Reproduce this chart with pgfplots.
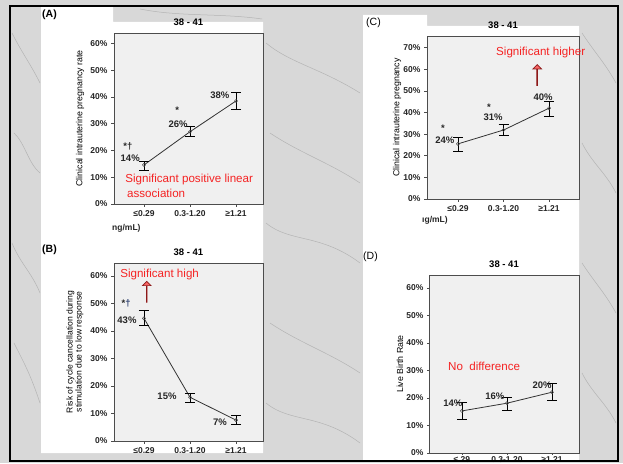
\documentclass[border=0pt]{standalone}
\usepackage{fontspec}
\setmainfont{Liberation Sans}
\usepackage{pgfplots}
\pgfplotsset{compat=1.18}
\usetikzlibrary{shapes.arrows}
\definecolor{marble}{RGB}{216,216,216}
\definecolor{vein}{RGB}{165,165,165}
\definecolor{plotbg}{RGB}{240,240,240}
\definecolor{sigred}{RGB}{245,35,35}
\definecolor{arrowred}{RGB}{140,25,25}
\definecolor{daggerblue}{RGB}{40,60,110}

\pgfplotsset{
  panel/.style={
    scale only axis, anchor=south west, clip=false,
    axis background/.style={fill=plotbg},
    axis line style={black!70, line width=0.6pt},
    xtick={1,2,3}, ymin=0,
    yticklabel={\pgfmathprintnumber{\tick}\%},
    /pgf/number format/assume math mode=true,
    tick align=outside, xtick pos=bottom, ytick pos=left,
    major tick length=3pt,
    tick style={black!70, line width=0.6pt},
    yticklabel style={font=\bfseries\fontsize{8.5}{9}\selectfont, text=black!85},
    xticklabel style={font=\bfseries\fontsize{8.5}{9}\selectfont, text=black!85},
    title style={at={(0.5,1)}, anchor=base, yshift=1.5pt, font=\bfseries\fontsize{9.5}{10}\selectfont},
    title={38 - 41},
    ylabel style={anchor=center, font=\fontsize{8.8}{9}\selectfont, text=black},
  },
  series/.style={
    black!80, line width=0.8pt, mark=o, mark size=1.6pt,
    mark options={black!70, line width=0.5pt},
    error bars/.cd, y dir=both, y explicit,
    error bar style={black, line width=0.7pt},
    error mark=-,
    error mark options={rotate=90, black, mark size=5pt, line width=0.7pt},
  },
}
\tikzset{
  val/.style={font=\bfseries\fontsize{9.5}{10}\selectfont, text=black!85},
  sig/.style={font=\fontsize{11.6}{12}\selectfont, text=sigred, anchor=west, inner sep=0pt},
  uparrow/.style={single arrow, draw=arrowred, fill=sigred!70, line width=0.7pt,
    minimum width=4pt, minimum height=21pt, single arrow head extend=4pt,
    shape border rotate=90, inner sep=0pt, anchor=tail},
}

\begin{document}
\begin{tikzpicture}
\useasboundingbox (0pt,0pt) rectangle (623pt,463pt);
% background
\fill[marble] (0pt,0pt) rectangle (623pt,463pt);
\begin{scope}[vein, line width=0.5pt, opacity=0.7]
  \draw (12pt,430pt) .. controls (22pt,410pt) and (30pt,400pt) .. (40pt,380pt);
  \draw (14pt,330pt) .. controls (25pt,320pt) and (28pt,300pt) .. (40pt,290pt);
  \draw (12pt,220pt) .. controls (20pt,200pt) and (32pt,190pt) .. (40pt,170pt);
  \draw (14pt,120pt) .. controls (24pt,100pt) and (30pt,90pt) .. (40pt,60pt);
  \draw (266pt,420pt) .. controls (290pt,400pt) and (320pt,395pt) .. (360pt,370pt);
  \draw (270pt,330pt) .. controls (300pt,310pt) and (330pt,300pt) .. (360pt,280pt);
  \draw (266pt,240pt) .. controls (290pt,220pt) and (320pt,230pt) .. (360pt,200pt);
  \draw (270pt,140pt) .. controls (300pt,120pt) and (330pt,110pt) .. (360pt,90pt);
  \draw (266pt,60pt) .. controls (290pt,40pt) and (320pt,50pt) .. (360pt,20pt);
  \draw (582pt,430pt) .. controls (595pt,410pt) and (605pt,400pt) .. (616pt,380pt);
  \draw (582pt,320pt) .. controls (592pt,300pt) and (606pt,290pt) .. (616pt,270pt);
  \draw (582pt,200pt) .. controls (595pt,180pt) and (605pt,170pt) .. (616pt,150pt);
  \draw (582pt,90pt) .. controls (592pt,70pt) and (606pt,60pt) .. (616pt,40pt);
  \draw (140pt,454pt) .. controls (180pt,446pt) and (220pt,450pt) .. (262pt,444pt);
\end{scope}
% white cards
\fill[white] (41pt,456pt) -- (113pt,456pt) -- (113pt,441pt) -- (263pt,441pt)
  -- (263pt,10pt) -- (41pt,10pt) -- cycle;
\fill[white] (363pt,448pt) -- (427pt,448pt) -- (427pt,437pt) -- (579pt,437pt)
  -- (579pt,2pt) -- (363pt,2pt) -- cycle;

% (A)
\begin{axis}[panel, at={(114pt,259pt)}, width=149pt, height=171pt,
  xmin=0.348, xmax=3.587, ymax=63.9, ytick={0,10,...,60},
  xticklabels={≤0.29, 0.3-1.20, ≥1.21},
  ylabel={Clinical intrauterine pregnancy rate},
  ylabel style={at={(axis description cs:-0.228,0.5)}}]
\addplot[series] coordinates {
  (1,14.6) += (0,1.5) -= (0,1.9)
  (2,27.0) += (0,2.1) -= (0,1.9)
  (3,38.5) += (0,3.1) -= (0,3.1)
};
\node[val] at (axis cs:0.70,17.2) {14\%};
\node[val] at (axis cs:1.74,29.9) {26\%};
\node[val] at (axis cs:2.65,40.7) {38\%};
\node[val] at (axis cs:0.65,21.6) {*†};
\node[val] at (axis cs:1.72,35.1) {*};
\node[sig] at (axis cs:0.59,9.3) {Significant positive linear};
\node[sig] at (axis cs:0.63,4.1) {association};
\end{axis}

% (B)
\begin{axis}[panel, at={(114pt,22pt)}, width=149pt, height=178pt,
  xmin=0.348, xmax=3.587, ymax=64.7, ytick={0,10,...,60},
  xticklabels={≤0.29, 0.3-1.20, ≥1.21},
  ylabel={Risk of cycle cancellation during\\stimulation due to low response},
  ylabel style={at={(axis description cs:-0.262,0.5)}, align=center,
    font=\fontsize{8.6}{8}\selectfont}]
\addplot[series] coordinates {
  (1,44.6) += (0,2.8) -= (0,2.7)
  (2,15.9) += (0,1.4) -= (0,1.8)
  (3,7.6) += (0,1.9) -= (0,1.4)
};
\node[val] at (axis cs:0.63,44.0) {43\%};
\node[val] at (axis cs:1.50,16.1) {15\%};
\node[val] at (axis cs:2.65,7.0) {7\%};
\node[val] at (axis cs:0.61,50.0) {*\textcolor{daggerblue}{†}};
\node[sig] at (axis cs:0.48,60.6) {Significant high};
\node[uparrow] at (axis cs:1.06,50.3) {};
\end{axis}

% (C)
\begin{axis}[panel, at={(427pt,264pt)}, width=152pt, height=163pt,
  xmin=0.319, xmax=3.659, ymax=75.4, ytick={0,10,...,70},
  xticklabels={≤0.29, 0.3-1.20, ≥1.21},
  ylabel={Clinical intrauterine pregnancy},
  ylabel style={at={(axis description cs:-0.197,0.5)}}]
\addplot[series] coordinates {
  (1,25.5) += (0,3.1) -= (0,3.3)
  (2,31.9) += (0,2.7) -= (0,2.3)
  (3,42.0) += (0,3.0) -= (0,3.6)
};
\node[val] at (axis cs:0.71,27.3) {24\%};
\node[val] at (axis cs:1.77,37.6) {31\%};
\node[val] at (axis cs:2.87,47.3) {40\%};
\node[val] at (axis cs:0.67,32.9) {*};
\node[val] at (axis cs:1.68,42.6) {*};
\node[sig] at (axis cs:1.835,67.7) {Significant higher};
\node[uparrow] at (axis cs:2.74,52.3) {};
\end{axis}

% (D)
\begin{axis}[panel, at={(429pt,10pt)}, width=150pt, height=178pt,
  xmin=0.27, xmax=3.6, ymax=64.7, ytick={0,10,...,60},
  xticklabels={≤.29, 0.3-1.20, ≥1.21},
  major tick length=2pt,
  xticklabel style={yshift=1.5pt},
  ylabel={Live Birth Rate},
  ylabel style={at={(axis description cs:-0.193,0.5)}}]
\addplot[series] coordinates {
  (1,15.3) += (0,3.0) -= (0,3.1)
  (2,18.1) += (0,2.0) -= (0,2.5)
  (3,22.1) += (0,3.2) -= (0,3.1)
};
\node[val] at (axis cs:0.80,18.0) {14\%};
\node[val] at (axis cs:1.73,20.5) {16\%};
\node[val] at (axis cs:2.78,24.6) {20\%};
\node[sig] at (axis cs:0.69,31.6) {No\ \ difference};
\end{axis}

% panel letters and cut-off axis titles
\node[anchor=west, inner sep=0pt, font=\bfseries\fontsize{10.5}{11}\selectfont] at (42pt,448pt) {(A)};
\node[anchor=west, inner sep=0pt, font=\bfseries\fontsize{10.5}{11}\selectfont] at (42pt,213pt) {(B)};
\node[anchor=west, inner sep=0pt, font=\fontsize{10.5}{11}\selectfont] at (366pt,440pt) {(C)};
\node[anchor=west, inner sep=0pt, font=\fontsize{10.5}{11}\selectfont] at (363pt,206pt) {(D)};
\node[anchor=west, inner sep=0pt, font=\bfseries\fontsize{8.5}{9}\selectfont, text=black!85] at (112pt,235pt) {ng/mL)};
\node[anchor=west, inner sep=0pt, font=\bfseries\fontsize{8.5}{9}\selectfont, text=black!85] at (422pt,243pt) {ıg/mL)};
% outer frame
\draw[black, line width=2.5pt] (10pt,457pt) rectangle (618pt,2pt);
\end{tikzpicture}
\end{document}
